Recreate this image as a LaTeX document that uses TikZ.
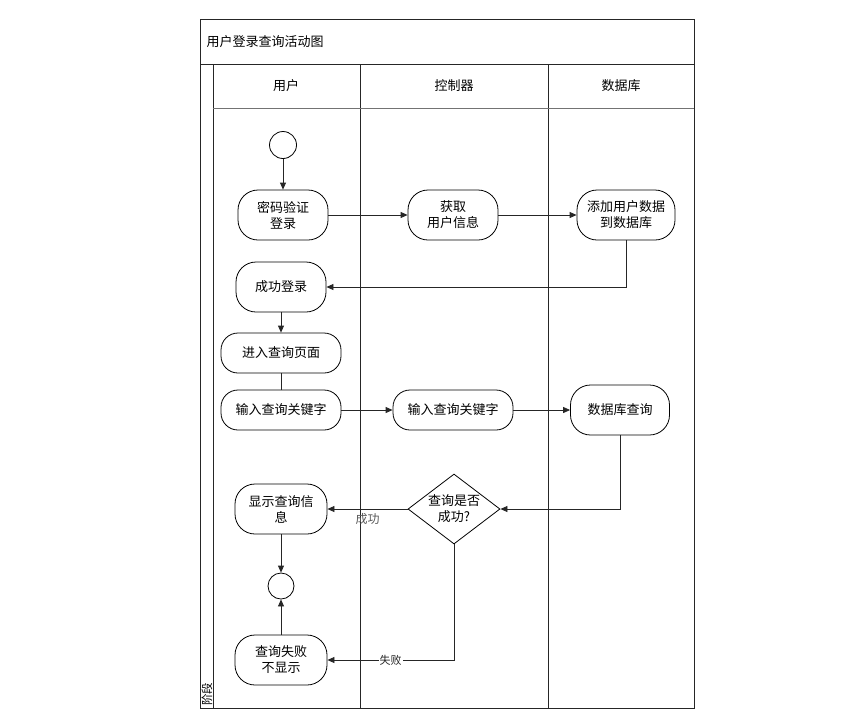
\documentclass[tikz,border=0pt]{standalone}
\usepackage{fontspec}
\newfontfamily\cjk{Noto Sans CJK SC}
\usetikzlibrary{arrows.meta,shapes.geometric}

\begin{document}
\begin{tikzpicture}[x=1pt,y=-1pt,>={Triangle[length=7pt,width=6pt]},
  font=\cjk\fontsize{13}{16}\selectfont,line width=0.8pt,
  act node/.style={draw,rectangle,rounded corners=20pt,align=center,minimum width=90pt,minimum height=50pt,inner sep=2pt},
  long node/.style={act node,rounded corners=17pt,minimum width=120pt,minimum height=40pt},
  mark node/.style={draw,circle,minimum size=27pt,inner sep=0pt},
  decision/.style={draw,diamond,aspect=1.3,align=center,minimum width=92pt,minimum height=70pt,inner sep=0pt},
  flow/.style={->,black!85},
  lane/.style={black!85}]

  \useasboundingbox (0,0) rectangle (850,724);

  % swimlane frame
  \draw[lane] (200,19) rectangle (694,708);
  \draw[lane] (200,64) -- (694,64);
  \draw[lane] (213,64) -- (213,708);
  \draw[lane] (360,64) -- (360,708);
  \draw[lane] (548,64) -- (548,708);
  \draw[black!55] (213,108) -- (694,108);

  \node[anchor=west]  (title) at (203,42) {用户登录查询活动图};
  \node  (laneU) at (286,86) {用户};
  \node  (laneC) at (454,86) {控制器};
  \node  (laneD) at (621,86) {数据库};
  \node[rotate=90,anchor=west,inner sep=0pt,font=\cjk\fontsize{11.5}{13}\selectfont] (stage) at (207,706) {阶段};

  % activities
  \node[mark node]  (start) at (283,145) {};
  \node[act node]  (pwd) at (283,215) {密码验证\\登录};
  \node[act node]  (fetch) at (453,215) {获取\\用户信息};
  \node[act node,minimum width=98pt]  (add) at (626,215) {添加用户数据\\到数据库};
  \node[act node]  (ok) at (281,287) {成功登录};
  \node[long node]  (page) at (281,353) {进入查询页面};
  \node[long node]  (inputU) at (281,410) {输入查询关键字};
  \node[long node]  (inputC) at (453,410) {输入查询关键字};
  \node[act node,minimum width=99pt]  (query) at (620,410) {数据库查询};
  \node[decision]  (check) at (454,509) {查询是否\\成功?};
  \node[act node,minimum width=92pt]  (show) at (281,509) {显示查询信\\息};
  \node[mark node,minimum size=26pt]  (stop) at (281,586) {};
  \node[act node,minimum width=92pt]  (fail) at (281,660) {查询失败\\不显示};

  \draw[flow] (start) -- (pwd);
  \draw[flow] (pwd) -- (fetch);
  \draw[flow] (fetch) -- (add);
  \draw[flow] (add.south) |- (ok.east);
  \draw[flow] (ok) -- (page);
  \draw[lane] (page) -- (inputU);
  \draw[flow] (inputU) -- (inputC);
  \draw[flow] (inputC) -- (query);
  \draw[flow] (query.south) |- (check.east);
  \draw[flow] (check.west) -- node[below=1pt,text=black!65,font=\cjk\fontsize{12}{14}\selectfont] {成功} (show.east);
  \draw[flow] (check.south) |- node[pos=0.75,fill=white,inner sep=1pt,font=\cjk\fontsize{11}{13}\selectfont] {失败} (fail.east);
  \draw[flow] (show) -- (stop);
  \draw[flow] (fail) -- (stop);

\end{tikzpicture}
\end{document}
